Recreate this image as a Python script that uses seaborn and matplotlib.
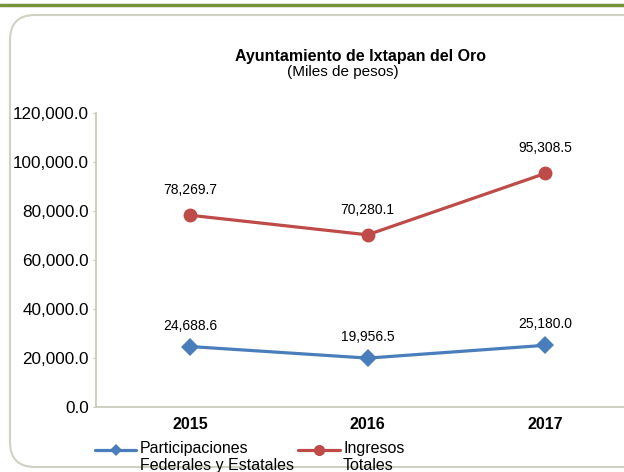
import matplotlib
matplotlib.use("Agg")
import matplotlib.pyplot as plt
from matplotlib.patches import FancyBboxPatch
from matplotlib.transforms import IdentityTransform
from matplotlib.lines import Line2D
import pandas as pd
import seaborn as sns

years = ["2015", "2016", "2017"]
participaciones = [24688.6, 19956.5, 25180.0]
ingresos = [78269.7, 70280.1, 95308.5]
series_names = ["Participaciones\nFederales y Estatales", "Ingresos\nTotales"]
colors = ["#4a7ebb", "#be4b48"]

df = pd.DataFrame({
    "pos": list(range(len(years))) * 2,
    "valor": participaciones + ingresos,
    "serie": [series_names[0]] * len(years) + [series_names[1]] * len(years),
})

sns.set_style("white")
plt.rcParams["font.family"] = ["Liberation Sans", "DejaVu Sans"]
plt.rcParams["text.color"] = "black"
plt.rcParams["xtick.color"] = "black"
plt.rcParams["ytick.color"] = "black"

fig = plt.figure(figsize=(6.24, 4.72), dpi=100)
ax = fig.add_axes([0.1538, 0.1377, 0.8462, 0.6229])

sns.lineplot(data=df, x="pos", y="valor", hue="serie", style="serie",
             palette=dict(zip(series_names, colors)),
             markers={series_names[0]: "D", series_names[1]: "o"},
             dashes=False, linewidth=2.3, markersize=9,
             markeredgewidth=0, ax=ax, legend=False)
# bigger circles for the red series
ax.lines[1].set_markersize(10)

for i, v in enumerate(participaciones):
    ax.annotate(f"{v:,.1f}", (i, v), xytext=(0, 10), textcoords="offset points",
                ha="center", va="bottom", fontsize=10)
for i, v in enumerate(ingresos):
    ax.annotate(f"{v:,.1f}", (i, v), xytext=(0, 13), textcoords="offset points",
                ha="center", va="bottom", fontsize=10)

ax.set_xlim(-0.53, 2.445)
ax.set_ylim(0, 120000)
ax.set_yticks(range(0, 120001, 20000))
ax.set_yticklabels([f"{t:,.1f}" for t in range(0, 120001, 20000)], fontsize=12.3)
ax.set_xticks(range(len(years)))
ax.set_xticklabels(years, fontsize=11.5, fontweight="bold")
ax.set_xticks([-0.5, 0.5, 1.5], minor=True)
ax.tick_params(axis="x", which="major", length=0, pad=7)
ax.tick_params(axis="x", which="minor", length=4, color="#c8c8b8", direction="out")
ax.tick_params(axis="y", length=2.5, color="#c8c8b8", direction="out", pad=2.5, left=True)
ax.set_xlabel("")
ax.set_ylabel("")
for side in ["top", "right"]:
    ax.spines[side].set_visible(False)
for side in ["left", "bottom"]:
    ax.spines[side].set_color("#c8c8b8")
    ax.spines[side].set_linewidth(1.2)
ax.patch.set_alpha(0)

handles = [
    Line2D([], [], color=colors[0], lw=2.3, marker="D", markersize=6, markeredgewidth=0),
    Line2D([], [], color=colors[1], lw=2.3, marker="o", markersize=8, markeredgewidth=0),
]
fig.legend(handles, series_names, loc="lower left", bbox_to_anchor=(0.152, -0.018),
           ncol=2, frameon=False, fontsize=11.5, handlelength=2.6, handletextpad=0.2,
           handleheight=3.8, columnspacing=0.3, borderaxespad=0, borderpad=0,
           labelspacing=0)

fig.text(0.577, 0.88, "Ayuntamiento de Ixtapan del Oro", ha="center", va="center",
         fontsize=11.5, fontweight="bold")
fig.text(0.55, 0.847, "(Miles de pesos)", ha="center", va="center", fontsize=11)

frame = FancyBboxPatch((10, 5), 680, 452, boxstyle="round,pad=0,rounding_size=25",
                       transform=IdentityTransform(), facecolor="none",
                       edgecolor="#d0d0c4", linewidth=1.5, zorder=-1)
fig.patches.append(frame)
fig.add_artist(Line2D([0, 1], [1 - 5 / 472, 1 - 5 / 472], color="#77933c", lw=2.5,
                      transform=fig.transFigure))

fig.savefig("out.png", dpi=100)
